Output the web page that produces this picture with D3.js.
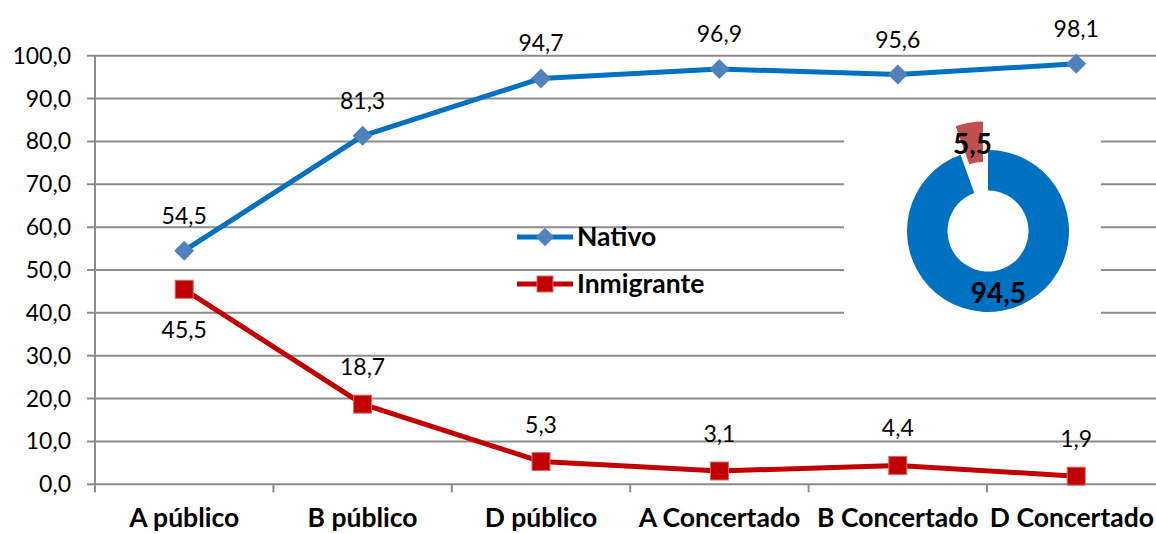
<!DOCTYPE html>
<html>
<head>
    <meta charset="utf-8">
    <title>Nativo / Inmigrante</title>
    <style>
        body { margin: 0; background: #fff; }
        svg { display: block; }
        text { font-family: Lato, "Open Sans", sans-serif; fill: #000; }
        .grid line { stroke: #8c8c8c; stroke-width: 2px; }
        .tick-label { font-size: 23px; }
        .cat-label { font-size: 26.5px; font-weight: bold; }
        .val-label { font-size: 23px; }
        .legend text { font-size: 26.5px; font-weight: bold; }
        .pie-label { font-size: 28px; font-weight: bold; }
    </style>
</head>
<body>
<script src="https://cdnjs.cloudflare.com/ajax/libs/d3/7.8.5/d3.min.js"></script>
<script>
    // Data
    const categories = ["A público", "B público", "D público", "A Concertado", "B Concertado", "D Concertado"];
    const nativo = [54.5, 81.3, 94.7, 96.9, 95.6, 98.1];
    const inmigrante = [45.5, 18.7, 5.3, 3.1, 4.4, 1.9];
    const yTicks = [0, 10, 20, 30, 40, 50, 60, 70, 80, 90, 100];
    const pieLabels = ["Nativo", "Inmigrante"];
    const pieValues = [94.5, 5.5];

    const width = 1156, height = 534;
    const fmt = v => d3.format(".1f")(v).replace(".", ",");

    const svg = d3.select("body").append("svg")
        .attr("width", width)
        .attr("height", height);

    // Scales (plot runs off the right edge like the original)
    const x = d3.scaleBand().domain(categories).range([95, 95 + 6 * 178.4]);
    const y = d3.scaleLinear().domain([0, 100]).range([484.3, 55.7]);
    const cx = d => x(d) + x.bandwidth() / 2;

    // Gridlines (they also act as the left tick marks)
    svg.append("g").attr("class", "grid")
        .selectAll("line").data(yTicks).join("line")
        .attr("x1", 87).attr("x2", width)
        .attr("y1", d => y(d)).attr("y2", d => y(d));

    // Y axis line
    svg.append("line")
        .attr("x1", 95).attr("x2", 95)
        .attr("y1", y(100)).attr("y2", y(0) + 8)
        .attr("stroke", "#8c8c8c").attr("stroke-width", 2);

    // X tick marks between categories
    svg.append("g").attr("class", "grid")
        .selectAll("line").data(categories.slice(1)).join("line")
        .attr("x1", d => x(d)).attr("x2", d => x(d))
        .attr("y1", y(0)).attr("y2", y(0) + 8);

    // Y tick labels
    svg.append("g").selectAll("text").data(yTicks).join("text")
        .attr("class", "tick-label")
        .attr("x", 71).attr("y", d => y(d))
        .attr("dy", "0.35em")
        .attr("text-anchor", "end")
        .text(fmt);

    // Category labels (last one nudged so it stays inside the page)
    svg.append("g").selectAll("text").data(categories).join("text")
        .attr("class", "cat-label")
        .attr("x", cx).attr("y", 527)
        .attr("text-anchor", "middle")
        .text(d => d)
        .each(function (d) {
            const w = this.getComputedTextLength();
            const over = cx(d) + w / 2 - (width - 2);
            if (over > 0) d3.select(this).attr("x", cx(d) - over);
        });

    const line = d3.line().x((d, i) => cx(categories[i])).y(d => y(d));

    // Nativo series
    svg.append("path").datum(nativo)
        .attr("d", line)
        .attr("fill", "none").attr("stroke", "#0070C0").attr("stroke-width", 5)
        .attr("stroke-linejoin", "round");
    svg.append("g").selectAll("path").data(nativo).join("path")
        .attr("d", d3.symbol(d3.symbolSquare, 200))
        .attr("transform", (d, i) => `translate(${cx(categories[i])},${y(d)}) rotate(45)`)
        .attr("fill", "#4F81BD");

    // Inmigrante series
    svg.append("path").datum(inmigrante)
        .attr("d", line)
        .attr("fill", "none").attr("stroke", "#C00000").attr("stroke-width", 5)
        .attr("stroke-linejoin", "round");
    svg.append("g").selectAll("rect").data(inmigrante).join("rect")
        .attr("x", (d, i) => cx(categories[i]) - 9)
        .attr("y", d => y(d) - 9)
        .attr("width", 18).attr("height", 18)
        .attr("fill", "#C00000").attr("stroke", "#D46A6A").attr("stroke-width", 1);

    // Value labels
    svg.append("g").selectAll("text").data(nativo).join("text")
        .attr("class", "val-label")
        .attr("x", (d, i) => cx(categories[i]))
        .attr("y", d => y(d) - 27)
        .attr("text-anchor", "middle")
        .text(fmt);
    svg.append("g").selectAll("text").data(inmigrante).join("text")
        .attr("class", "val-label")
        .attr("x", (d, i) => cx(categories[i]))
        .attr("y", (d, i) => i === 0 ? y(d) + 49 : y(d) - 29)
        .attr("text-anchor", "middle")
        .text(fmt);

    // Legend
    const legend = svg.append("g").attr("class", "legend");
    const legendItems = [
        {name: "Nativo", color: "#0070C0", marker: "#4F81BD", ly: 237},
        {name: "Inmigrante", color: "#C00000", marker: "#C00000", ly: 284}
    ];
    legendItems.forEach((it, k) => {
        legend.append("line")
            .attr("x1", 517).attr("x2", 573)
            .attr("y1", it.ly).attr("y2", it.ly)
            .attr("stroke", it.color).attr("stroke-width", 5);
        if (k === 0) {
            legend.append("path")
                .attr("d", d3.symbol(d3.symbolSquare, 170))
                .attr("transform", `translate(545,${it.ly}) rotate(45)`)
                .attr("fill", it.marker);
        } else {
            legend.append("rect")
                .attr("x", 545 - 8).attr("y", it.ly - 8)
                .attr("width", 16).attr("height", 16)
                .attr("fill", it.marker).attr("stroke", "#D46A6A");
        }
        legend.append("text")
            .attr("x", 577).attr("y", it.ly)
            .attr("dy", "0.35em")
            .text(it.name);
    });

    // Inset donut with white background
    svg.append("rect")
        .attr("x", 844).attr("y", 108)
        .attr("width", 1101 - 844).attr("height", 226)
        .attr("fill", "#fff");

    const pcx = 988, pcy = 231, rOut = 81, rIn = 40.5, explode = 29;
    const pie = d3.pie().sort(null)(pieValues);
    const arc = d3.arc().innerRadius(rIn).outerRadius(rOut);
    const pieColors = ["#0070C0", "#C0504D"];
    const pieG = svg.append("g").attr("transform", `translate(${pcx},${pcy})`);

    const offset = (d, i) => {
        if (i === 0) return [0, 0];
        const a = (d.startAngle + d.endAngle) / 2;
        return [explode * Math.sin(a), -explode * Math.cos(a)];
    };

    pieG.selectAll("path").data(pie).join("path")
        .attr("d", arc)
        .attr("transform", (d, i) => `translate(${offset(d, i)})`)
        .attr("fill", (d, i) => pieColors[i]);

    pieG.selectAll("text").data(pie).join("text")
        .attr("class", "pie-label")
        .attr("transform", (d, i) => {
            const c = arc.centroid(d), o = offset(d, i);
            return `translate(${c[0] + o[0]},${c[1] + o[1] + 2})`;
        })
        .attr("dy", "0.35em")
        .attr("text-anchor", "middle")
        .text(d => fmt(d.data));
</script>
</body>
</html>
